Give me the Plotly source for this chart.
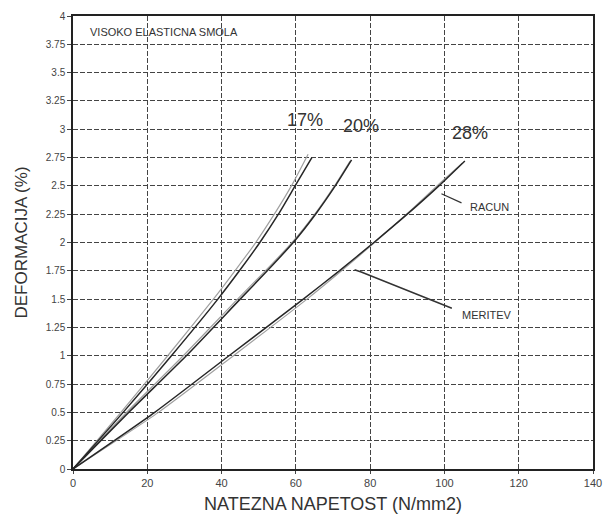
import plotly.graph_objects as go

# Stress (N/mm2) vs strain (%) readings
meas_17_y = [0, 0.5, 1.0, 1.5, 1.75, 2.0, 2.25, 2.5, 2.75]
meas_17_x = [0, 13.5, 26.5, 39, 44.8, 50.3, 55.3, 59.8, 64.3]
calc_17_y = [0, 0.5, 1.0, 1.5, 1.75, 2.0, 2.25, 2.5, 2.78]
calc_17_x = [0, 12.9, 25.5, 37.8, 43.6, 49.2, 54.2, 58.8, 63.3]

meas_20_y = [0, 0.5, 1.0, 1.5, 1.75, 2.0, 2.25, 2.5, 2.73]
meas_20_x = [0, 15, 30.5, 45, 52.3, 59.3, 65.3, 70.6, 75]
calc_20_y = [0, 0.5, 1.0, 1.5, 1.75, 2.0, 2.25, 2.5, 2.72]
calc_20_x = [0, 14.4, 29.7, 44.3, 51.8, 59, 65.1, 70.4, 74.6]

meas_28_y = [0, 0.5, 1.0, 1.5, 1.75, 2.0, 2.25, 2.5, 2.72]
meas_28_x = [0, 22, 42, 62, 71.7, 81, 90, 98.5, 105.5]
calc_28_y = [0, 0.5, 1.0, 1.5, 1.75, 2.0, 2.25, 2.5, 2.7]
calc_28_x = [0, 23, 43.2, 63, 72.3, 81.2, 89.8, 98, 104.8]

x_ticks = [0, 20, 40, 60, 80, 100, 120, 140]
y_ticks = [0, 0.25, 0.5, 0.75, 1, 1.25, 1.5, 1.75, 2, 2.25, 2.5, 2.75, 3, 3.25, 3.5, 3.75, 4]
y_tick_text = ["0", "0.25", "0.5", "0.75", "1", "1.25", "1.5", "1.75", "2", "2.25",
               "2.5", "2.75", "3", "3.25", "3.5", "3.75", "4"]

pct_labels = ["17%", "20%", "28%"]
pct_x = [62.5, 77.5, 107]
pct_y = [3.08, 3.03, 2.97]

racun_line_x = [99.2, 104.6]
racun_line_y = [2.43, 2.35]
meritev_line_x = [75.8, 77.6, 102]
meritev_line_y = [1.76, 1.74, 1.42]

FONT = "Liberation Sans, Arial, sans-serif"

fig = go.Figure()

for xs, ys in [(calc_17_x, calc_17_y), (calc_20_x, calc_20_y), (calc_28_x, calc_28_y)]:
    fig.add_trace(go.Scatter(x=xs, y=ys, mode="lines", line=dict(color="#a0a0a0", width=1.2),
                             line_shape="spline", line_smoothing=0.6,
                             showlegend=False, hoverinfo="skip"))
for xs, ys in [(meas_17_x, meas_17_y), (meas_20_x, meas_20_y), (meas_28_x, meas_28_y)]:
    fig.add_trace(go.Scatter(x=xs, y=ys, mode="lines", line=dict(color="#262626", width=1.5),
                             line_shape="spline", line_smoothing=0.6,
                             showlegend=False, hoverinfo="skip"))

# pointer lines
fig.add_trace(go.Scatter(x=racun_line_x, y=racun_line_y, mode="lines",
                         line=dict(color="#333", width=1.2), showlegend=False, hoverinfo="skip"))
fig.add_trace(go.Scatter(x=meritev_line_x, y=meritev_line_y, mode="lines",
                         line=dict(color="#333", width=1.5), showlegend=False, hoverinfo="skip"))

for t, x, y in zip(pct_labels, pct_x, pct_y):
    fig.add_annotation(x=x, y=y, text=t, showarrow=False,
                       font=dict(family=FONT, size=18, color="#333"))

fig.add_annotation(x=112.2, y=2.31, text="RACUN", showarrow=False,
                   font=dict(family=FONT, size=11, color="#333"))
fig.add_annotation(x=111.4, y=1.36, text="MERITEV", showarrow=False,
                   font=dict(family=FONT, size=11, color="#333"))
fig.add_annotation(x=4, y=3.86, text="VISOKO ELASTICNA SMOLA", showarrow=False,
                   xanchor="left", font=dict(family=FONT, size=11, color="#333"))

grid = dict(showgrid=True, gridcolor="#444", gridwidth=1, griddash="5px,2px")

fig.update_layout(
    width=603, height=514,
    margin=dict(l=73, r=10, t=16, b=45),
    paper_bgcolor="white", plot_bgcolor="white",
    font=dict(family=FONT, color="#333"),
    xaxis=dict(range=[0, 140], tickvals=x_ticks, ticks="outside", ticklen=3,
               tickfont=dict(size=11, color="#444"), showline=True, linecolor="#222",
               linewidth=1.5, mirror=True, zeroline=False, automargin=False,
               title=dict(text="NATEZNA NAPETOST (N/mm2)", font=dict(size=18, color="#333"),
                          standoff=12),
               **grid),
    yaxis=dict(range=[0, 4], tickvals=y_ticks, ticktext=y_tick_text, ticks="outside",
               ticklen=4, tickfont=dict(size=10, color="#444"), showline=True,
               linecolor="#222", linewidth=1.5, mirror=True, zeroline=False,
               automargin=False,
               title=dict(text="DEFORMACIJA (%)", font=dict(size=17, color="#333"),
                          standoff=14),
               **grid),
)

fig.write_html("out.html", config={"displayModeBar": False},
               post_script="document.body.style.margin='0';document.body.style.overflow='hidden';")
